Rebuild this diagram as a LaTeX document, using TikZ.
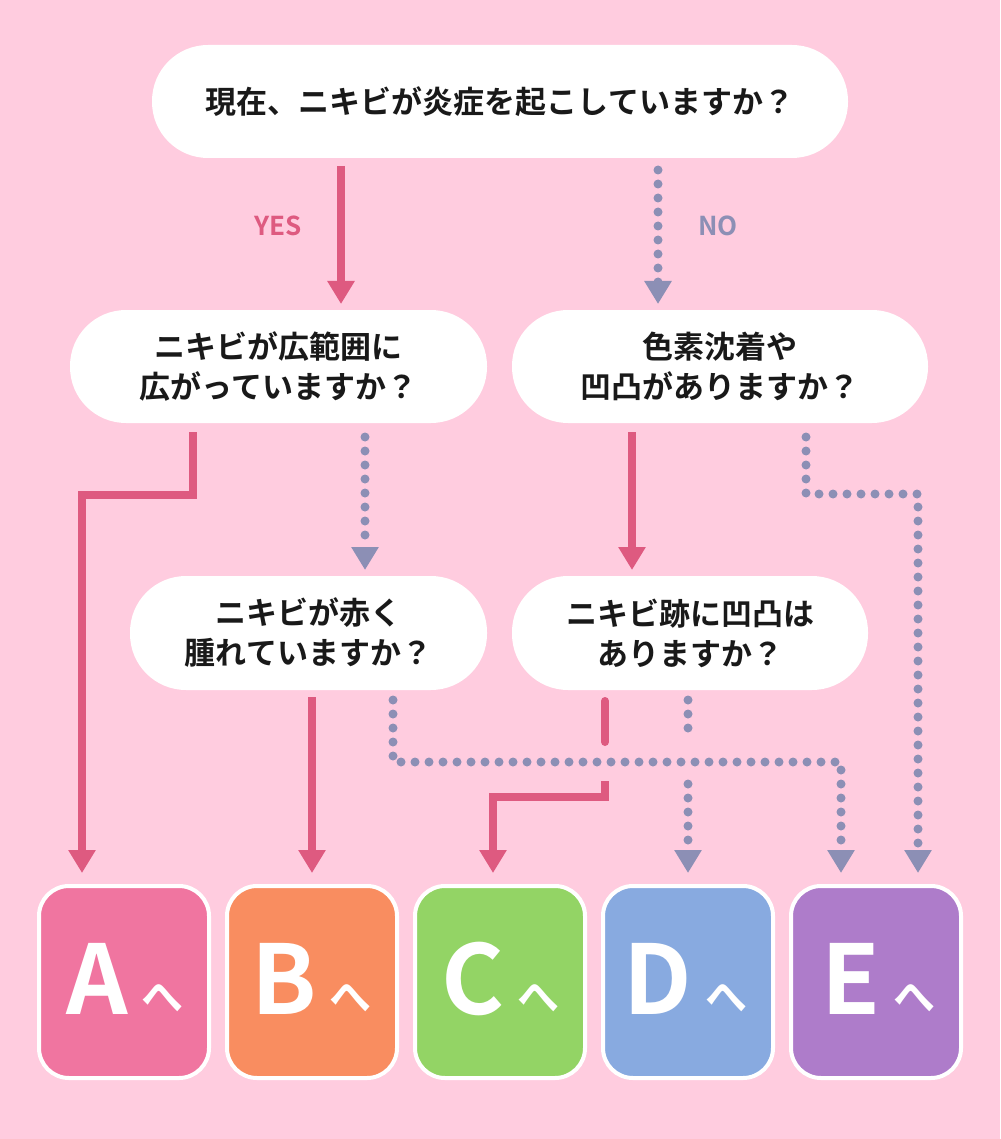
\documentclass[tikz,border=0pt]{standalone}
\usepackage{fontspec}
\setmainfont{Noto Sans CJK JP}[BoldFont={* Bold}]
\usetikzlibrary{arrows.meta,calc}
\definecolor{bg}{HTML}{FFCCDF}
\definecolor{yesc}{HTML}{DE5A80}
\definecolor{noc}{HTML}{8C8FB5}
\definecolor{ca}{HTML}{F075A0}
\definecolor{cb}{HTML}{F98D60}
\definecolor{cc}{HTML}{93D465}
\definecolor{cd}{HTML}{88AAE0}
\definecolor{ce}{HTML}{AE7CCA}
\begin{document}
\begin{tikzpicture}[x=1pt,y=-1pt,
  pill/.style={inner sep=0pt,align=center,font=\fontsize{31}{40}\selectfont\bfseries,text=black!90},
  box/.style={draw=white,line width=4pt,fill=#1,rounded corners=30pt,minimum width=170pt,minimum height=192pt,inner sep=0pt},
  yes/.style={draw=yesc,line width=8pt,-{Triangle[width=26pt,length=23pt]}},
  yesl/.style={draw=yesc,line width=8pt},
  no/.style={draw=noc,line width=9pt,line cap=round,dash pattern=on 0pt off 14pt,-{Triangle[width=26pt,length=23pt]}},
  nol/.style={draw=noc,line width=9pt,line cap=round,dash pattern=on 0pt off 14pt},
  big/.style={font=\fontsize{96}{96}\selectfont\bfseries,text=white},
  he/.style={font=\fontsize{42}{42}\selectfont\bfseries,text=white}]
\fill[bg] (0,0) rectangle (1000,1139);
\useasboundingbox (0,0) rectangle (1000,1139);
% pills
\fill[white,rounded corners=56pt] (152,45) rectangle (848,158);
\node[pill] (p1) at (500,102) {現在、ニキビが炎症を起こしていますか？};
\fill[white,rounded corners=56pt] (70,310) rectangle (487,423);
\node[pill] (p2) at (278.5,366.5) {ニキビが広範囲に\\広がっていますか？};
\fill[white,rounded corners=56pt] (512,310) rectangle (928,423);
\node[pill] (p3) at (720,366.5) {色素沈着や\\凹凸がありますか？};
\fill[white,rounded corners=56pt] (130,576) rectangle (487,690);
\node[pill] (p4) at (308.5,633) {ニキビが赤く\\腫れていますか？};
\fill[white,rounded corners=56pt] (512,576) rectangle (868,690);
\node[pill] (p5) at (690,633) {ニキビ跡に凹凸は\\ありますか？};
% boxes
\node[box=ca] (A) at (124,982) {};
\node[box=cb] (B) at (312,982) {};
\node[box=cc] (C) at (500,982) {};
\node[box=cd] (D) at (688,982) {};
\node[box=ce] (E) at (876,982) {};
\foreach \n/\l in {A/A,B/B,C/C,D/D,E/E}{
  \node[big,anchor=base east] at ([xshift=8pt,yshift=-32pt]\n.center) {\l};
  \node[he,anchor=base west] at ([xshift=14pt,yshift=-30pt]\n.center) {へ};
}
% labels
\node[font=\fontsize{26}{26}\selectfont\bfseries,text=yesc] (yl) at (278,226) {YES};
\node[font=\fontsize{26}{26}\selectfont\bfseries,text=noc] (nl) at (718,226) {NO};
% coordinates
\coordinate (s1) at (341,166); \coordinate (t1) at (341,304);
\coordinate (s2) at (658,170); \coordinate (t2) at (658,304);
\draw[yes] (s1) -- (t1);
\draw[no] (s2) -- (t2);
% p2
\draw[yes] (193,432) -- (193,495) -- (82,495) -- (82,873);
\draw[no] (365,437) -- (365,570);
% p3
\draw[yes] (632,432) -- (632,570);
\draw[no] (806,437) -- (806,494) -- (918,494) -- (918,873);
% p4
\draw[yes] (312,697) -- (312,873);
\draw[no] (393,700) -- (393,762) -- (841,762) -- (841,873);
% p5
\draw[yesl,line cap=round] (605,701) -- (605,742);
\draw[yes] (605,781) -- (605,797) -- (493,797) -- (493,873);
\draw[nol] (688,700) -- (688,742);
\draw[no] (688,784) -- (688,873);
\end{tikzpicture}
\end{document}
